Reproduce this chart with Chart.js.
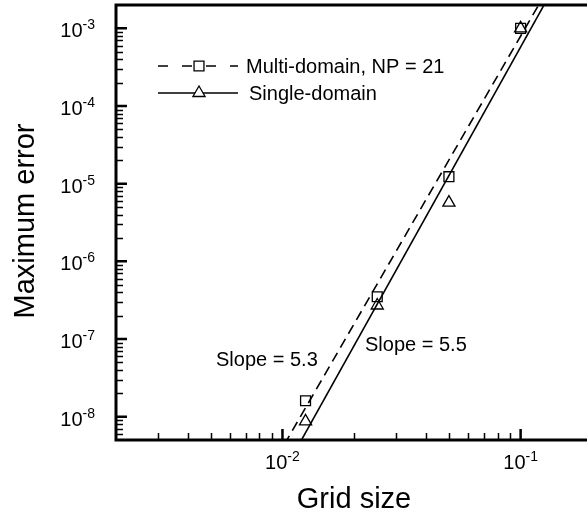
<!DOCTYPE html>
<html>
<head>
<meta charset="utf-8">
<script src="https://cdn.jsdelivr.net/npm/chart.js@4"></script>
<style>
  html, body { margin: 0; padding: 0; background: #fff; overflow: hidden; }
  canvas { display: block; }
</style>
</head>
<body>
<canvas id="myChart" width="587" height="516"></canvas>
<script>
const gridSize = [0.1, 0.05, 0.025, 0.0125];
const multiDomainErr = [1.0e-3, 1.23e-5, 3.5e-7, 1.6e-8];
const singleDomainErr = [1.0e-3, 5.7e-6, 2.7e-7, 8.7e-9];

// fitted convergence lines: log10(err) = logA + slope * log10(h)
const fitSlopes = [5.3, 5.5];
const fitLogA = [2.20, 2.26];

const xRange = [0.002, 0.19];
const yRange = [5e-9, 2e-3];
const xMajor = [-2, -1];
const yMajor = [-8, -7, -6, -5, -4, -3];

const FONT = "'Liberation Sans', Arial, sans-serif";

function fitLine(i) {
  return xRange.map(x => ({ x: x, y: Math.pow(10, fitLogA[i] + fitSlopes[i] * Math.log10(x)) }));
}

function pts(ys) {
  return gridSize.map((x, i) => ({ x: x, y: ys[i] }));
}

// 10^n label with a raised exponent
function powLabel(ctx, exp, x, y, align) {
  const base = "10", sup = "-" + Math.abs(exp);
  ctx.font = "20px " + FONT;
  const wb = ctx.measureText(base).width;
  ctx.font = "14px " + FONT;
  const ws = ctx.measureText(sup).width;
  const w = wb + ws;
  let x0 = align === "right" ? x - w : x - w / 2;
  ctx.textAlign = "left";
  ctx.textBaseline = "alphabetic";
  ctx.font = "20px " + FONT;
  ctx.fillText(base, x0, y);
  ctx.font = "14px " + FONT;
  ctx.fillText(sup, x0 + wb, y - 8);
}

function minorValues(range) {
  const out = [];
  const lo = Math.floor(Math.log10(range[0])), hi = Math.ceil(Math.log10(range[1]));
  for (let d = lo; d <= hi; d++) {
    for (let k = 2; k <= 9; k++) {
      const v = k * Math.pow(10, d);
      if (v > range[0] && v < range[1]) out.push(v);
    }
  }
  return out;
}

const frame = {
  id: "frame",
  afterDatasetsDraw(chart) {
    const { ctx, chartArea: a, scales: { x, y } } = chart;
    ctx.save();
    ctx.strokeStyle = "#000";
    ctx.fillStyle = "#000";
    ctx.setLineDash([]);

    // minor ticks
    ctx.lineWidth = 1.5;
    ctx.beginPath();
    minorValues(yRange).forEach(v => {
      const py = Math.round(y.getPixelForValue(v)) + 0.5;
      ctx.moveTo(a.left, py); ctx.lineTo(a.left + 7, py);
    });
    minorValues(xRange).forEach(v => {
      const px = Math.round(x.getPixelForValue(v)) + 0.5;
      ctx.moveTo(px, a.bottom); ctx.lineTo(px, a.bottom - 7);
    });
    ctx.stroke();

    // major ticks
    ctx.lineWidth = 2.5;
    ctx.beginPath();
    yMajor.forEach(e => {
      const py = y.getPixelForValue(Math.pow(10, e));
      ctx.moveTo(a.left, py); ctx.lineTo(a.left + 11, py);
    });
    xMajor.forEach(e => {
      const px = x.getPixelForValue(Math.pow(10, e));
      ctx.moveTo(px, a.bottom); ctx.lineTo(px, a.bottom - 11);
    });
    ctx.stroke();

    // frame lines (left, bottom, top)
    ctx.lineWidth = 3;
    ctx.beginPath();
    ctx.moveTo(a.right + 2, a.top); ctx.lineTo(a.left, a.top);
    ctx.lineTo(a.left, a.bottom); ctx.lineTo(a.right + 2, a.bottom);
    ctx.stroke();

    // tick labels
    yMajor.forEach(e => {
      const py = y.getPixelForValue(Math.pow(10, e));
      powLabel(ctx, e, a.left - 21, py + 9, "right");
    });
    xMajor.forEach(e => {
      const px = x.getPixelForValue(Math.pow(10, e));
      powLabel(ctx, e, px, a.bottom + 29, "center");
    });

    // axis titles
    ctx.font = "29px " + FONT;
    ctx.textAlign = "center";
    ctx.textBaseline = "alphabetic";
    ctx.fillText("Grid size", 354, 508);
    ctx.save();
    ctx.translate(34, 221);
    ctx.rotate(-Math.PI / 2);
    ctx.fillText("Maximum error", 0, 0);
    ctx.restore();

    // slope annotations
    ctx.font = "20px " + FONT;
    ctx.textAlign = "left";
    ctx.fillText("Slope = " + fitSlopes[0].toFixed(1), 216, 366);
    ctx.fillText("Slope = " + fitSlopes[1].toFixed(1), 365, 351);

    // legend
    const ds = chart.data.datasets;
    const entries = [
      { line: ds[2], mark: ds[0], y: 66, tx: 246 },
      { line: ds[3], mark: ds[1], y: 93, tx: 249 }
    ];
    entries.forEach(en => {
      ctx.lineWidth = en.line.borderWidth;
      ctx.setLineDash(en.line.borderDash ? [10, 14] : []);
      ctx.beginPath();
      ctx.moveTo(158, en.y); ctx.lineTo(238, en.y);
      ctx.stroke();
      ctx.setLineDash([]);
      ctx.fillStyle = "#fff";
      ctx.lineWidth = en.mark.pointBorderWidth;
      Chart.helpers.drawPoint(ctx, {
        pointStyle: en.mark.pointStyle, radius: en.mark.pointRadius,
        rotation: 0, borderWidth: en.mark.pointBorderWidth
      }, 199, en.y);
      ctx.fillStyle = "#000";
      ctx.font = "20px " + FONT;
      ctx.textAlign = "left";
      ctx.fillText(en.mark.label, en.tx, en.y + 7);
    });
    ctx.restore();
  }
};

const ctx = document.getElementById("myChart");

new Chart(ctx, {
  type: "scatter",
  data: {
    datasets: [
      {
        label: "Multi-domain, NP = 21",
        data: pts(multiDomainErr),
        pointStyle: "rect",
        pointRadius: 7,
        pointBorderWidth: 1.3,
        pointBackgroundColor: "rgba(255,255,255,0)",
        pointBorderColor: "#000",
        showLine: false,
        order: 0
      },
      {
        label: "Single-domain",
        data: pts(singleDomainErr),
        pointStyle: "triangle",
        pointRadius: 7,
        pointBorderWidth: 1.3,
        pointBackgroundColor: "rgba(255,255,255,0)",
        pointBorderColor: "#000",
        showLine: false,
        order: 1
      },
      {
        label: "fit 5.3",
        data: fitLine(0),
        showLine: true,
        borderColor: "#000",
        borderWidth: 1.6,
        borderDash: [10, 6],
        pointRadius: 0,
        order: 2
      },
      {
        label: "fit 5.5",
        data: fitLine(1),
        showLine: true,
        borderColor: "#000",
        borderWidth: 1.6,
        pointRadius: 0,
        order: 3
      }
    ]
  },
  options: {
    responsive: false,
    animation: false,
    layout: { autoPadding: false, padding: { left: 116, top: 5, right: 0, bottom: 76 } },
    plugins: {
      legend: { display: false },
      tooltip: { enabled: false }
    },
    scales: {
      x: { type: "logarithmic", min: xRange[0], max: xRange[1], display: false },
      y: { type: "logarithmic", min: yRange[0], max: yRange[1], display: false }
    }
  },
  plugins: [frame]
});
</script>
</body>
</html>
